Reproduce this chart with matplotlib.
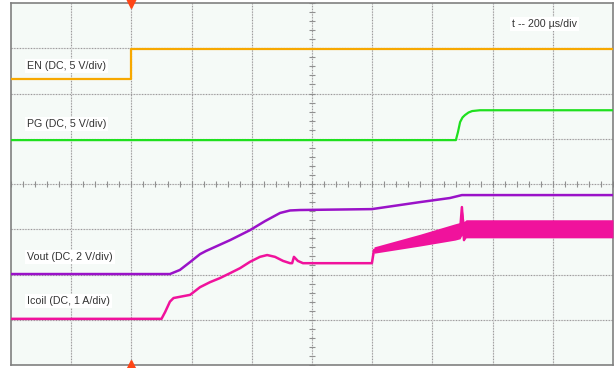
import matplotlib.pyplot as plt
import numpy as np

# time axis: 200 us/div, trigger at t = 0
t_en = [-400, 0, 0, 1600]
v_en = [0.0, 0.0, 3.32, 3.32]

t_pg = [-400, 1078, 1085, 1092, 1100, 1108, 1120, 1132, 1158, 1600]
v_pg = [0.0, 0.0, 0.9, 1.99, 2.5, 2.76, 3.05, 3.21, 3.30, 3.30]

t_vout = [-400, 128, 161, 195, 228, 248, 328, 394, 444, 494, 527, 560, 799, 959, 1058, 1098, 1600]
v_vout = [0.0, 0.0, 0.18, 0.53, 0.88, 1.02, 1.50, 1.94, 2.34, 2.70, 2.81, 2.83, 2.87, 3.18, 3.36, 3.49, 3.49]

t_icoil = [-400, 100, 112, 128, 140, 195, 228, 261, 294, 328, 361, 394, 427, 451, 477, 504,
           527, 534, 540, 553, 570, 799, 806, 959, 1075, 1092, 1098, 1105, 1115, 1600]
i_icoil = [0.0, 0.0, 0.15, 0.38, 0.46, 0.53, 0.70, 0.81, 0.90, 1.01, 1.12, 1.26, 1.37, 1.41, 1.37, 1.28,
           1.23, 1.23, 1.37, 1.28, 1.23, 1.23, 1.52, 1.74, 1.92, 1.95, 2.47, 1.74, 1.99, 1.99]

# ripple envelope of coil current
t_band = [806, 959, 1075, 1092, 1098, 1105, 1112, 1600]
i_band_hi = [1.59, 1.87, 2.10, 2.13, 2.47, 2.15, 2.19, 2.19]
i_band_lo = [1.45, 1.61, 1.74, 1.77, 1.85, 1.74, 1.79, 1.79]

# channel offset (div from bottom) and scale (units/div)
off_en, sc_en = 6.32, 5.0
off_pg, sc_pg = 4.97, 5.0
off_vout, sc_vout = 2.01, 2.0
off_icoil, sc_icoil = 1.02, 1.0

labels = ["EN (DC, 5 V/div)", "PG (DC, 5 V/div)", "Vout (DC, 2 V/div)", "Icoil (DC, 1 A/div)"]
label_y = [6.61, 5.33, 2.39, 1.41]

c_en, c_pg, c_vout, c_icoil = '#f7a800', '#1fe01f', '#9a12c8', '#f0129c'

plt.rcParams['font.family'] = ['Liberation Sans', 'DejaVu Sans']

fig = plt.figure(figsize=(6.16, 3.68), dpi=100)
ax = fig.add_axes([11/616, 3/368, 602/616, 362/368])
ax.set_facecolor('#f5faf7')
ax.set_xlim(-400, 1600)
ax.set_ylim(0, 8)

# graticule
for x in np.arange(-200, 1600, 200):
    ax.axvline(x, color='#dedede', lw=0.8, zorder=1)
    ax.axvline(x, color='#9a9a9a', lw=0.8, ls=(0, (1, 1.5)), zorder=1)
for y in np.arange(1, 8):
    ax.axhline(y, color='#dedede', lw=0.8, zorder=1)
    ax.axhline(y, color='#9a9a9a', lw=0.8, ls=(0, (1, 1.5)), zorder=1)
ax.plot(np.arange(-400, 1601, 40), np.full(51, 4.0), ls='none', marker='|', ms=4,
        mew=0.8, color='#909090', zorder=1)
ax.plot(np.full(41, 600.0), np.arange(0, 8.01, 0.2), ls='none', marker='_', ms=4,
        mew=0.8, color='#909090', zorder=1)

# traces
ax.plot(t_en, off_en + np.array(v_en) / sc_en, color=c_en, lw=1.6, zorder=3)
ax.plot(t_pg, off_pg + np.array(v_pg) / sc_pg, color=c_pg, lw=1.6, zorder=3)
ax.plot(t_vout, off_vout + np.array(v_vout) / sc_vout, color=c_vout, lw=1.8, zorder=3)
ax.fill_between(t_band, off_icoil + np.array(i_band_lo) / sc_icoil,
                off_icoil + np.array(i_band_hi) / sc_icoil, color=c_icoil, lw=0, zorder=3)
ax.plot(t_icoil, off_icoil + np.array(i_icoil) / sc_icoil, color=c_icoil, lw=1.8, zorder=3)

# trigger markers
ax.plot([0], [8], marker='v', ms=7, color='#ff4516', clip_on=False, zorder=5)
ax.plot([0], [0], marker='^', ms=7, color='#ff4516', clip_on=False, zorder=5)

box = dict(facecolor='white', edgecolor='none', pad=1.5)
for lab, y in zip(labels, label_y):
    ax.text(-347, y, lab, fontsize=7.7, color='#333333', va='center', ha='left', bbox=box, zorder=4)
ax.text(1264, 7.54, "t -- 200 µs/div", fontsize=7.7, color='#333333', va='center', ha='left',
        bbox=box, zorder=4)

ax.set_xticks([])
ax.set_yticks([])
for s in ax.spines.values():
    s.set_color('#808080')
    s.set_linewidth(1.2)

fig.savefig('out.png', dpi=100, facecolor='white')
